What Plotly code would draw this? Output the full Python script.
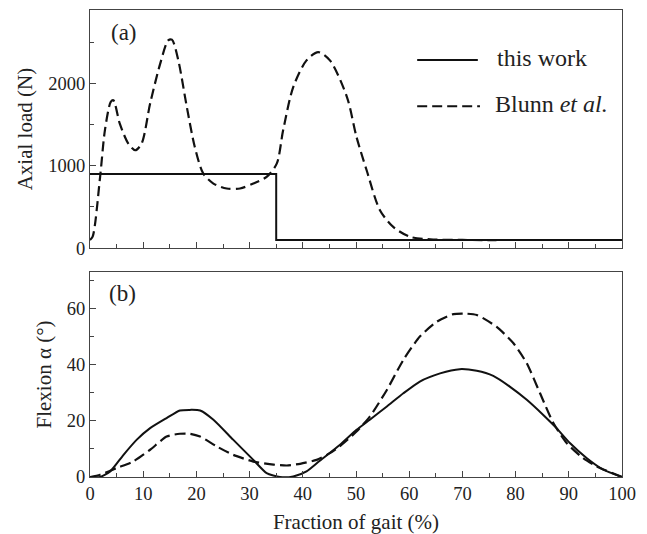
import plotly.graph_objects as go

# ---- data ----
load_this_x = [0, 35, 100]
load_this_y = [900, 100, 100]

load_blunn_x = [0, 0.5, 1.9, 2.8, 3.9, 4.4, 5.6, 7.2, 8.5, 9.7, 11.3, 13.2, 14.7, 15.4, 16.6,
                18.2, 19.7, 21.3, 23.2, 25.7, 28.2, 30.7, 33.2, 35.1, 36.3, 38.2, 40.7, 42.9,
                45.1, 48.3, 50.1, 52.0, 54.5, 57.0, 60.2, 64.5, 70, 76.4]
load_blunn_y = [100, 140, 865, 1430, 1774, 1794, 1511, 1269, 1188, 1269, 1754, 2239, 2521, 2530,
                2279, 1713, 1228, 905, 784, 724, 724, 784, 865, 1026, 1430, 1955, 2279, 2379,
                2279, 1834, 1349, 945, 461, 258, 137, 105, 100, 97]

flex_this_x = [0, 1.9, 3.8, 6.3, 8.8, 11.3, 14.4, 16.9, 18.8, 20.7, 23.2, 26.9, 30.7, 33.2, 35.7,
               38.2, 40.7, 43.2, 47.0, 50.1, 52.6, 55.8, 58.9, 62.0, 65.8, 69.5, 72.7, 75.8,
               78.9, 82.1, 85.2, 87.7, 90.2, 93.4, 96.5, 100]
flex_this_y = [0, 0, 2, 7.9, 13.3, 17.4, 21, 23.7, 23.9, 23.7, 20.4, 13.3, 6.1, 1.4, 0, 0.2, 2,
               5.8, 11.5, 16.8, 20.4, 25.1, 29.8, 34.0, 36.9, 38.4, 37.8, 36.0, 32.2, 27.5, 22.1,
               17.4, 12.1, 6.7, 2.6, 0]

flex_blunn_x = [0, 1.9, 5.0, 8.1, 11.3, 14.4, 16.9, 18.8, 20.7, 23.8, 26.9, 30.7, 34.5, 37.0,
                39.5, 42.6, 45.1, 47.0, 50.1, 52.6, 55.8, 58.9, 62.0, 65.2, 68.3, 70.2, 72.7,
                76.4, 79.6, 82.1, 84.6, 87.1, 89.6, 92.7, 95.2, 100]
flex_blunn_y = [0, 0.8, 3.2, 5.5, 9.7, 14.4, 15.4, 15.4, 14.4, 10.9, 7.9, 5.5, 4.4, 4.1, 4.7,
                6.1, 8.5, 11, 16.2, 21.5, 31, 41.7, 50, 55.3, 58, 58.2, 57.7, 53.5, 47.6, 40.5,
                29.8, 19.2, 12.1, 6.7, 3.8, 0]

x_ticks = [0, 10, 20, 30, 40, 50, 60, 70, 80, 90, 100]
load_ticks = [0, 1000, 2000]
flex_ticks = [0, 20, 40, 60]

series_names = ["this work", "Blunn <i>et al.</i>"]
panel_labels = ["(a)", "(b)"]

FONT = "Liberation Serif"
INK = "#111111"
FRAME = "#444444"
TXT = "#222222"

fig = go.Figure()
fig.add_trace(go.Scatter(x=load_this_x, y=load_this_y, mode="lines", line_shape="hv",
                         line=dict(color=INK, width=2), xaxis="x", yaxis="y", showlegend=False))
fig.add_trace(go.Scatter(x=load_blunn_x, y=load_blunn_y, mode="lines", line_shape="spline",
                         line=dict(color=INK, width=2.2, dash="10px,5px", smoothing=0.8),
                         xaxis="x", yaxis="y", showlegend=False))
fig.add_trace(go.Scatter(x=flex_this_x, y=flex_this_y, mode="lines", line_shape="spline",
                         line=dict(color=INK, width=2, smoothing=0.6),
                         xaxis="x2", yaxis="y2", showlegend=False))
fig.add_trace(go.Scatter(x=flex_blunn_x, y=flex_blunn_y, mode="lines", line_shape="spline",
                         line=dict(color=INK, width=2.2, dash="11px,5px", smoothing=0.6),
                         xaxis="x2", yaxis="y2", showlegend=False))

axis_common = dict(showline=True, linecolor=FRAME, linewidth=1.2, mirror=True,
                   ticks="inside", ticklen=6, tickcolor=FRAME, tickwidth=1,
                   showgrid=False, zeroline=False,
                   tickfont=dict(family=FONT, size=18.5, color=TXT))

# page body has an 8px margin in the browser; compensate in figure size/margins
fig.update_layout(
    width=639, height=526,
    margin=dict(l=82, r=25, t=2, b=57),
    plot_bgcolor="white", paper_bgcolor="white",
    font=dict(family=FONT, color=TXT),
    xaxis=dict(domain=[0, 1], anchor="y", range=[0, 100], tickvals=x_ticks, showticklabels=False,
               minor=dict(dtick=5, ticks="inside", ticklen=4, tickcolor=FRAME), **axis_common),
    yaxis=dict(domain=[0.49, 1], anchor="x", range=[0, 2890], tickvals=load_ticks,
               minor=dict(dtick=500, ticks="inside", ticklen=4, tickcolor=FRAME),
               title=dict(text="Axial load (N)", font=dict(family=FONT, size=21, color=TXT), standoff=9),
               **axis_common),
    xaxis2=dict(domain=[0, 1], anchor="y2", range=[0, 100], tickvals=x_ticks,
                minor=dict(dtick=5, ticks="inside", ticklen=4, tickcolor=FRAME),
                title=dict(text="Fraction of gait (%)", font=dict(family=FONT, size=21, color=TXT), standoff=12),
                **axis_common),
    yaxis2=dict(domain=[0, 0.439], anchor="x2", range=[0, 73], tickvals=flex_ticks,
                minor=dict(dtick=10, ticks="inside", ticklen=4, tickcolor=FRAME),
                title=dict(text="Flexion α (°)", font=dict(family=FONT, size=21, color=TXT), standoff=9),
                **axis_common),
)

# panel labels
fig.add_annotation(text=panel_labels[0], xref="paper", yref="paper", x=0.036, y=0.951,
                   xanchor="left", yanchor="middle", showarrow=False,
                   font=dict(family=FONT, size=23, color=TXT))
fig.add_annotation(text=panel_labels[1], xref="paper", yref="paper", x=0.032, y=0.394,
                   xanchor="left", yanchor="middle", showarrow=False,
                   font=dict(family=FONT, size=23, color=TXT))

# legend (drawn manually)
fig.add_shape(type="line", xref="paper", yref="paper", x0=0.615, x1=0.729, y0=0.893, y1=0.893,
              line=dict(color=INK, width=2))
fig.add_shape(type="line", xref="paper", yref="paper", x0=0.615, x1=0.733, y0=0.794, y1=0.794,
              line=dict(color=INK, width=2, dash="10px,5px"))
fig.add_annotation(text=series_names[0], xref="paper", yref="paper", x=0.762, y=0.897,
                   xanchor="left", yanchor="middle", showarrow=False,
                   font=dict(family=FONT, size=24, color=TXT))
fig.add_annotation(text=series_names[1], xref="paper", yref="paper", x=0.758, y=0.798,
                   xanchor="left", yanchor="middle", showarrow=False,
                   font=dict(family=FONT, size=24, color=TXT))

fig.write_html("out.html")
